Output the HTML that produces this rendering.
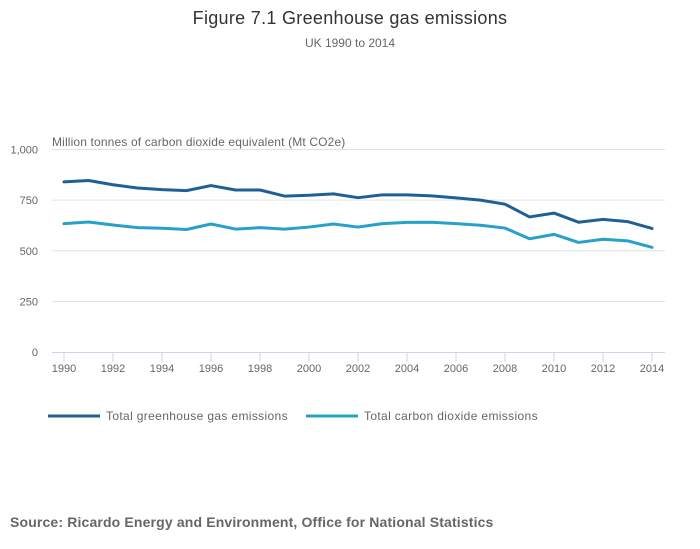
<!DOCTYPE html>
<html><head><meta charset="utf-8"><style>
body{margin:0;background:#fff;font-family:"Liberation Sans",sans-serif;}
svg{display:block}
</style></head><body>
<svg width="700" height="549">
<text x="350" y="24" text-anchor="middle" font-size="18" letter-spacing="0.3" fill="#333">Figure 7.1 Greenhouse gas emissions</text>
<text x="350" y="47" text-anchor="middle" font-size="12" fill="#666">UK 1990 to 2014</text>
<text x="52" y="146" font-size="12" letter-spacing="0.15" fill="#666">Million tonnes of carbon dioxide equivalent (Mt CO2e)</text>
<g id="grid"></g><g id="xaxis"></g><g id="series"></g>
<g>
<line x1="48" y1="416" x2="100" y2="416" stroke="#206095" stroke-width="3"/>
<text x="106" y="420" font-size="12" letter-spacing="0.35" fill="#666">Total greenhouse gas emissions</text>
<line x1="306" y1="416" x2="358" y2="416" stroke="#27a0cc" stroke-width="3"/>
<text x="364" y="420" font-size="12" letter-spacing="0.35" fill="#666">Total carbon dioxide emissions</text>
</g>
<text x="10" y="527" font-size="14" font-weight="bold" letter-spacing="0.15" fill="#666">Source: Ricardo Energy and Environment, Office for National Statistics</text>
</svg>
<script>
const years=[1990,1991,1992,1993,1994,1995,1996,1997,1998,1999,2000,2001,2002,2003,2004,2005,2006,2007,2008,2009,2010,2011,2012,2013,2014];
const ghg=[840,847,826,810,802,797,822,800,800,770,774,781,762,776,776,771,761,750,730,667,686,641,655,644,610];
const co2=[634,642,627,614,611,605,632,607,614,607,617,632,617,634,640,641,634,626,612,559,581,541,557,549,517];
const yTicks=[0,250,500,750,1000];
const yTickLabels=["0","250","500","750","1,000"];
const NS="http://www.w3.org/2000/svg";
const x=v=>64+(v-1990)*(652-64)/24;
const y=v=>352-v*0.2025;
const grid=document.getElementById('grid'),xa=document.getElementById('xaxis'),se=document.getElementById('series');
function mk(tag,attrs,parent){const e=document.createElementNS(NS,tag);for(const k in attrs)e.setAttribute(k,attrs[k]);parent.appendChild(e);return e;}
yTicks.forEach((t,i)=>{
  if(t>0){const l=mk('line',{x1:52,x2:665,y1:y(t),y2:y(t),stroke:'#e0e0e0','stroke-width':1},grid);
  
  }
  const tx=mk('text',{x:38,y:y(t)+4,'text-anchor':'end','font-size':11,fill:'#666'},grid);
  tx.textContent=yTickLabels[i];
  
  
});
const ax=mk('line',{x1:52,x2:665,y1:352.5,y2:352.5,stroke:'#ccd6eb','stroke-width':1},xa);


years.forEach(yr=>{if(yr%2)return;
  const tk=mk('line',{x1:x(yr),x2:x(yr),y1:352,y2:362,stroke:'#ccd6eb'},xa);
  
  
  const tx=mk('text',{x:x(yr),y:372,'text-anchor':'middle','font-size':11,fill:'#666'},xa);
  tx.textContent=yr;
  
  
});
function line(vals,color,name){
  const p=mk('polyline',{points:vals.map((v,i)=>x(years[i])+','+y(v)).join(' '),fill:'none',stroke:color,'stroke-width':3,'stroke-linejoin':'round','stroke-linecap':'round'},se);
  
  
}
line(ghg,'#206095','line-total-ghg');
line(co2,'#27a0cc','line-total-co2');
</script>
</body></html>
